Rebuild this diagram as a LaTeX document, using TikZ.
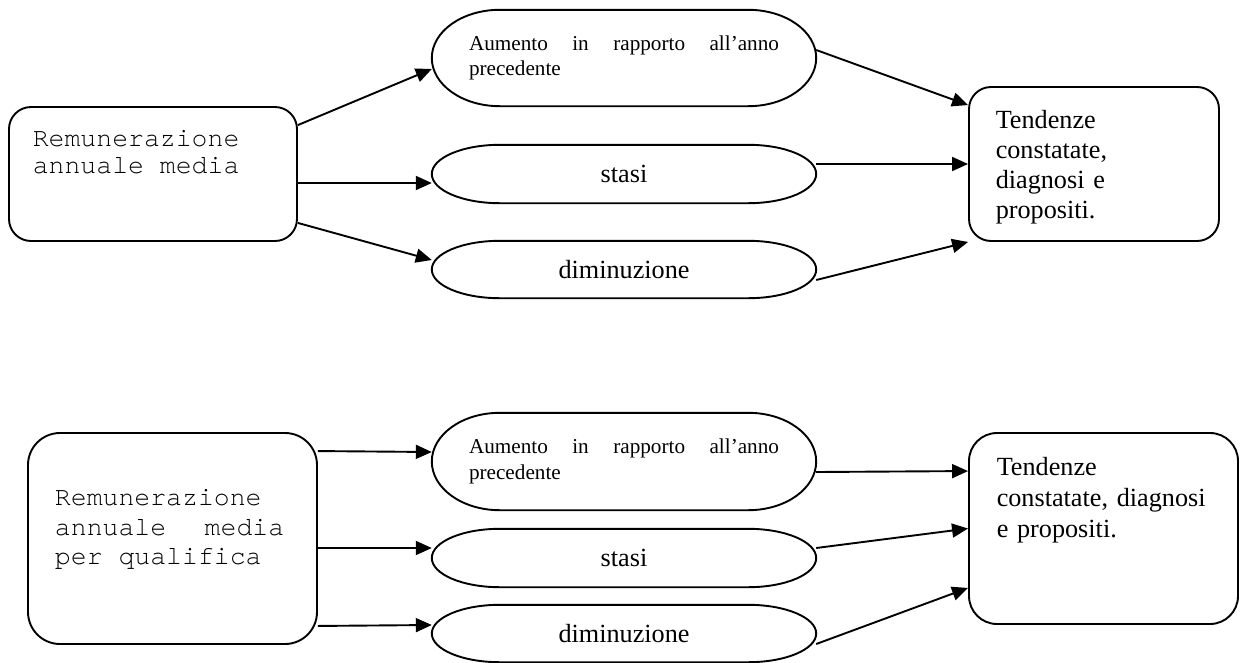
\documentclass[tikz,border=0pt]{standalone}
\usepackage{fontspec}
\setmainfont{Liberation Serif}
\setmonofont{TeX Gyre Cursor}[Ligatures=CommonOff]
\usetikzlibrary{arrows.meta,positioning,calc}
\newcommand{\msp}{\hspace{0.6em}}
\tikzset{
	box/.style={draw,line width=1.9pt,rounded corners=#1,inner sep=0pt},
	oval/.style={inner sep=0pt,minimum width=384pt,font=\fontsize{26.2}{30}\selectfont},
	monotext/.style={inner sep=0pt,text width=260pt,align=left,anchor=base west},
	serftext/.style={inner sep=0pt,text width=240pt,align=left,anchor=base west},
	link/.style={line width=1.9pt,-{Triangle[length=16pt,width=14pt]}}
}
\begin{document}
\begin{tikzpicture}[x=1pt,y=1pt]
	\useasboundingbox (0,0) rectangle (1240,-662);
	% prima serie
	\node[box=22pt,minimum width=288pt,minimum height=134pt] (a1) at (153,-174) {};
	\node[monotext,font=\ttfamily\fontsize{26.5}{27.3}\selectfont] (a1txt) at ([shift={(24.5,-40)}]a1.north west) {Remunerazione\\annuale\msp media};
	\node[oval,minimum height=96pt] (e1) at (624,-58) {\parbox{310pt}{\fontsize{21.2}{25.5}\selectfont Aumento in rapporto all'anno\linebreak precedente}};
	\node[oval,minimum height=58pt] (e2) at (624,-174) {stasi};
	\node[oval,minimum height=57pt] (e3) at (624,-269.5) {diminuzione};
	\node[box=22pt,minimum width=250pt,minimum height=154pt] (t1) at (1094,-164) {};
	\node[serftext,font=\fontsize{26.2}{30.3}\selectfont] (t1txt) at ([shift={(27.5,-42)}]t1.north west) {Tendenze\\constatate,\\diagnosi e\\propositi.};
	% seconda serie
	\node[box=32pt,minimum width=289pt,minimum height=211pt] (a2) at (172.5,-538.5) {};
	\node[monotext,font=\ttfamily\fontsize{26.5}{29.5}\selectfont] (a2txt) at ([shift={(27.7,-73.7)}]a2.north west) {Remunerazione\\annuale\hspace{38.5pt}media\\per\msp qualifica};
	\node[oval,minimum height=97pt] (e4) at (624,-461.5) {\parbox{310pt}{\fontsize{21.2}{25.5}\selectfont Aumento in rapporto all'anno\linebreak precedente}};
	\node[oval,minimum height=58pt] (e5) at (624,-558) {stasi};
	\node[oval,minimum height=57pt] (e6) at (624,-633.5) {diminuzione};
	\node[box=28pt,minimum width=269pt,minimum height=191pt] (t2) at (1103.5,-528.5) {};
	\node[serftext,font=\fontsize{26.2}{31}\selectfont] (t2txt) at ([shift={(28.5,-43)}]t2.north west) {Tendenze\\constatate, diagnosi\\e propositi.};
	% contorni degli ovali
	\foreach \ov in {e1,e2,e3,e4,e5,e6}
		\draw[line width=1.9pt] let \p1=(\ov.north west), \p2=(\ov.south east), \n1={(\y1-\y2)/2} in
			(\x1+68pt,\y1) -- (\x2-68pt,\y1) arc[start angle=90,end angle=-90,x radius=68pt,y radius=\n1]
			-- (\x1+68pt,\y2) arc[start angle=270,end angle=90,x radius=68pt,y radius=\n1] -- cycle;
	% frecce
	\draw[link] ([yshift=-19pt]a1.north east) -- ([yshift=-11pt]e1.west);
	\draw[link] ([yshift=-9pt]a1.east) -- ([yshift=-9pt]e2.west);
	\draw[link] ([yshift=19pt]a1.south east) -- ([yshift=9.5pt]e3.west);
	\draw[link] ([yshift=8pt]e1.east) -- ([yshift=-19pt]t1.north west);
	\draw[link] ([yshift=10pt]e2.east) -- (t1.west);
	\draw[link] ([yshift=-10.5pt]e3.east) -- (t1.south west);
	\draw[link] ([yshift=-19pt]a2.north east) -- ([yshift=9.5pt]e4.west);
	\draw[link] ([yshift=-9.5pt]a2.east) -- ([yshift=10pt]e5.west);
	\draw[link] ([yshift=19pt]a2.south east) -- ([yshift=8.5pt]e6.west);
	\draw[link] ([yshift=-10.5pt]e4.east) -- ([yshift=-39pt]t2.north west);
	\draw[link] ([yshift=10pt]e5.east) -- (t2.west);
	\draw[link] ([yshift=-10.5pt]e6.east) -- ([yshift=37pt]t2.south west);
\end{tikzpicture}
\end{document}
